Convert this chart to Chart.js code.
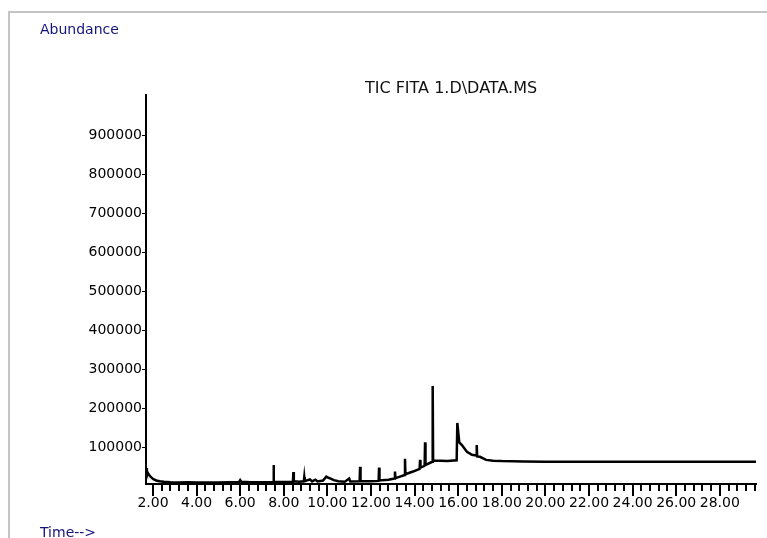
<!DOCTYPE html>
<html>
<head>
<meta charset="utf-8">
<script src="https://cdn.jsdelivr.net/npm/chart.js@4/dist/chart.umd.min.js"></script>
<style>
  html, body { margin: 0; padding: 0; background: #fff; overflow: hidden; }
  #wrap { position: relative; width: 767px; height: 538px; }
  #frame { position: absolute; left: 8px; top: 11px; width: 800px; height: 600px;
           border-top: 2px solid #c4c4c4; border-left: 2px solid #c4c4c4; }
  .lbl { position: absolute; font-family: "DejaVu Sans", sans-serif; white-space: nowrap; }
  #abund { left: 40px; top: 21px; font-size: 14px; line-height: 16px; color: #14147a; }
  #timeLbl { left: 40px; top: 524px; font-size: 14px; line-height: 16px; color: #14147a; }
  #title { left: 451px; top: 78px; font-size: 16px; transform: translateX(-50%); color: #111; }
  canvas { position: absolute; left: 0; top: 0; }
</style>
</head>
<body>
<div id="wrap">
  <div id="frame"></div>
  <canvas id="tic" width="767" height="538"></canvas>
  <div class="lbl" id="abund">Abundance</div>
  <div class="lbl" id="title">TIC FITA 1.D\DATA.MS</div>
  <div class="lbl" id="timeLbl">Time--&gt;</div>
</div>
<script>
// retention time (min) and abundance
const times = [
  1.68, 1.72, 1.80, 1.90, 2.00, 2.15, 2.30, 2.50, 2.80, 3.20, 3.60, 4.00, 4.50, 5.00, 5.50, 5.95,
  6.00, 6.05, 6.50, 7.00, 7.51, 7.53, 7.55, 7.90, 8.42, 8.44, 8.46, 8.70, 8.92, 8.94, 8.96, 9.20,
  9.30, 9.45, 9.55, 9.80, 9.95, 10.05, 10.15, 10.30, 10.50, 10.80, 11.00, 11.05, 11.48, 11.50, 11.52,
  12.00, 12.35, 12.37, 12.39, 12.80, 13.08, 13.10, 13.12, 13.33, 13.54, 13.56, 13.58, 13.93, 14.23,
  14.25, 14.27, 14.40, 14.46, 14.48, 14.50, 14.81, 14.83, 14.85, 15.20, 15.50, 15.93, 15.96, 16.05,
  16.17, 16.40, 16.63, 16.83, 16.85, 16.87, 17.00, 17.28, 17.60, 18.00, 19.00, 20.00, 22.00, 24.00,
  26.00, 28.00, 29.66
];
const abundance = [
  46000, 38000, 30000, 23000, 18000, 14000, 12000, 10500, 9500, 9000, 9300, 8800, 9000, 8900, 9300, 10000,
  15000, 10500, 9500, 9200, 9500, 54000, 10500, 10000, 10500, 36000, 12000, 11000, 12000, 23000, 12000, 17000,
  11500, 16000, 11500, 14000, 24000, 21000, 19000, 15000, 12000, 11000, 19000, 11500, 12000, 49000, 12500,
  12000, 13000, 47000, 14000, 16000, 19000, 37000, 20000, 24000, 28000, 70000, 30000, 37000, 44000,
  67000, 47000, 50000, 52000, 112000, 54000, 62000, 257000, 65000, 65000, 64000, 66000, 162000, 112000,
  105000, 88000, 80000, 78000, 105000, 76000, 75000, 67000, 65000, 64000, 63000, 62500, 62000, 62000,
  62500, 62000, 62000
];
const yTicks = [100000, 200000, 300000, 400000, 500000, 600000, 700000, 800000, 900000];

function isMajor(v) {
    return Math.round(v * 10) % 20 === 0;
}

const tickMarks = {
    id: 'tickMarks',
    afterDraw(chart) {
        const xs = chart.scales.x;
        const ctx = chart.ctx;
        ctx.save();
        ctx.strokeStyle = '#000';
        ctx.lineWidth = 2;
        xs.ticks.forEach(function (t) {
            const px = Math.round(xs.getPixelForValue(t.value));
            const len = isMajor(t.value) ? 12 : 7;
            ctx.beginPath();
            ctx.moveTo(px, xs.top);
            ctx.lineTo(px, xs.top + len);
            ctx.stroke();
        });
        ctx.restore();
    }
};

new Chart(document.getElementById('tic'), {
    type: 'line',
    data: {
        datasets: [{
            data: times.map((t, i) => ({ x: t, y: abundance[i] })),
            borderColor: '#000',
            borderWidth: 2.5,
            pointRadius: 0,
            tension: 0,
            fill: false,
        }]
    },
    options: {
        responsive: false,
        animation: false,
        events: [],
        layout: { padding: { top: 95, right: 11, left: 0, bottom: 0 } },
        plugins: { legend: { display: false }, tooltip: { enabled: false } },
        scales: {
            x: {
                type: 'linear',
                min: 1.68,
                max: 29.66,
                afterBuildTicks: function (scale) {
                    const ticks = [];
                    for (let i = 5; i * 0.4 <= 29.66; i++) ticks.push({ value: Math.round(i * 4) / 10 });
                    scale.ticks = ticks;
                },
                afterFit: function (scale) { scale.height = 54; },
                grid: { drawOnChartArea: false, drawTicks: true, tickLength: 11, color: 'rgba(0,0,0,0)' },
                border: { display: true, color: '#000', width: 2 },
                ticks: {
                    autoSkip: false,
                    maxRotation: 0,
                    minRotation: 0,
                    padding: 0,
                    color: '#000',
                    font: { family: "'DejaVu Sans', sans-serif", size: 14 },
                    callback: function (value) { return isMajor(value) ? value.toFixed(2) : ''; }
                }
            },
            y: {
                min: 5000,
                max: 1005000,
                afterBuildTicks: function (scale) {
                    scale.ticks = yTicks.map(v => ({ value: v }));
                },
                afterFit: function (scale) { scale.width = 146; },
                grid: { drawOnChartArea: false, tickLength: 4, tickColor: '#000', tickWidth: 1 },
                border: { display: true, color: '#000', width: 2 },
                ticks: {
                    padding: 0,
                    color: '#000',
                    font: { family: "'DejaVu Sans', sans-serif", size: 14 },
                    callback: function (value) { return String(value); }
                }
            }
        }
    },
    plugins: [tickMarks]
});
</script>
</body>
</html>
